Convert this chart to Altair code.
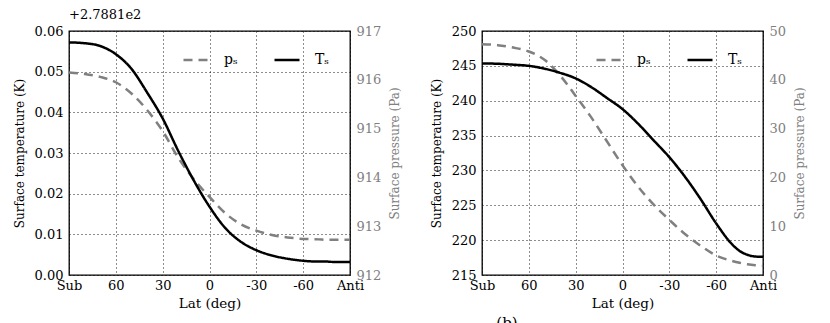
import altair as alt
import pandas as pd

# ---------------- data ----------------
LAT = [90, 80, 70, 60, 50, 40, 30, 20, 10, 0, -10, -20, -30, -40, -50, -60, -70, -75, -80, -85, -90]
X_TICKS = [90, 60, 30, 0, -30, -60, -90]
SERIES = ["pₛ", "Tₛ"]

# panel (a): temperature offset above 278.81 K, surface pressure in Pa
A_OFFSET_LABEL = "+2.7881e2"
A_T = [0.0572, 0.0570, 0.0563, 0.0543, 0.0507, 0.0449, 0.0385, 0.0305, 0.0232, 0.0168,
       0.0116, 0.0082, 0.0061, 0.0048, 0.0040, 0.0035, 0.0033, 0.0033, 0.0032, 0.0032, 0.0032]
A_P = [916.15, 916.12, 916.06, 915.95, 915.72, 915.38, 914.95, 914.40, 913.96, 913.60,
       913.27, 913.04, 912.91, 912.82, 912.77, 912.74, 912.73, 912.72, 912.72, 912.72, 912.72]
A_T_TICKS = [0.0, 0.01, 0.02, 0.03, 0.04, 0.05, 0.06]
A_P_TICKS = [912, 913, 914, 915, 916, 917]

# panel (b)
B_T = [245.35, 245.30, 245.17, 245.00, 244.60, 244.00, 243.20, 241.95, 240.40, 238.80,
       236.70, 234.30, 231.90, 229.10, 225.90, 222.40, 219.45, 218.45, 217.90, 217.65, 217.60]
B_P = [47.3, 47.1, 46.6, 45.8, 44.1, 40.9, 36.7, 32.3, 27.4, 22.5,
       18.1, 14.4, 11.3, 8.4, 6.0, 4.0, 2.9, 2.5, 2.2, 2.0, 1.9]
B_T_TICKS = [215, 220, 225, 230, 235, 240, 245, 250]
B_P_TICKS = [0, 10, 20, 30, 40, 50]

GREY = "#808080"
FONT = "DejaVu Serif, Liberation Serif, serif"
W, H = 281, 244


def legend():
    return alt.Legend(
        orient="none", legendX=113, legendY=15, direction="horizontal", title=None,
        symbolType="stroke", symbolSize=625, symbolStrokeWidth=2.5,
        labelFontSize=14, labelFont=FONT, labelOffset=14, columnPadding=31,
        padding=0, symbolStrokeColor="black",
    )


def panel(T, P, t_ticks, t_fmt, p_ticks, title=None, caption=None):
    dT = pd.DataFrame({"lat": LAT, "value": T, "series": SERIES[1]})
    dP = pd.DataFrame({"lat": LAT, "value": P, "series": SERIES[0]})
    x = alt.X(
        "lat:Q",
        scale=alt.Scale(domain=[90, -90], nice=False, zero=False),
        axis=alt.Axis(
            values=X_TICKS, title="Lat (deg)", grid=True, titleFontSize=13.5,
            labelExpr="datum.value == 90 ? 'Sub' : datum.value == -90 ? 'Anti' : '' + datum.value",
            labelPadding=4, titlePadding=4,
        ),
    )
    color = alt.Color("series:N", scale=alt.Scale(domain=SERIES, range=[GREY, "black"]), legend=legend())
    dash = alt.StrokeDash("series:N", scale=alt.Scale(domain=SERIES, range=[[9, 6], [1, 0]]), legend=legend())

    p_layer = alt.Chart(dP).mark_line(strokeWidth=2.5, interpolate="monotone").encode(
        x=x,
        y=alt.Y(
            "value:Q",
            scale=alt.Scale(domain=[p_ticks[0], p_ticks[-1]], nice=False, zero=False),
            axis=alt.Axis(
                orient="right", values=p_ticks, format="d", title="Surface pressure (Pa)",
                grid=False, labelColor=GREY, titleColor=GREY, labelPadding=6, titlePadding=21,
                titleAngle=270,
            ),
        ),
        color=color, strokeDash=dash,
    )
    t_layer = alt.Chart(dT).mark_line(strokeWidth=2.5, interpolate="monotone").encode(
        x=x,
        y=alt.Y(
            "value:Q",
            scale=alt.Scale(domain=[t_ticks[0], t_ticks[-1]], nice=False, zero=False),
            axis=alt.Axis(
                orient="left", values=t_ticks, format=t_fmt, title="Surface temperature (K)",
                grid=True, labelPadding=6, titlePadding=8,
            ),
        ),
        color=color, strokeDash=dash,
    )
    layers = [p_layer, t_layer]
    if caption:
        cap = alt.Chart(pd.DataFrame({"t": [caption]})).mark_text(
            font=FONT, fontSize=15, baseline="top", align="center", color="black"
        ).encode(text="t:N", x=alt.value(25), y=alt.value(H + 41))
        layers.append(cap)
    ch = alt.layer(*layers).resolve_scale(y="independent")
    props = dict(width=W, height=H)
    if title is not None:
        props["title"] = alt.TitleParams(
            text=title, anchor="start", frame="group", font=FONT, fontSize=13,
            fontWeight="normal", offset=3, color="black",
        )
    return ch.properties(**props)


left = panel(A_T, A_P, A_T_TICKS, ".2f", A_P_TICKS, title=A_OFFSET_LABEL)
right = panel(B_T, B_P, B_T_TICKS, "d", B_P_TICKS, title=" ", caption="(b)")

chart = (
    alt.hconcat(left, right, spacing=132, bounds="flush")
    .resolve_scale(color="independent", strokeDash="independent")
    .resolve_legend(color="independent", strokeDash="independent")
    .properties(padding={"left": 4, "top": 0, "right": 5, "bottom": 5})
    .configure(font=FONT)
    .configure_axis(
        labelFont=FONT, titleFont=FONT, labelFontSize=13, titleFontSize=12,
        titleFontWeight="normal", ticks=False, domain=False,
        labelColor="black", titleColor="black", labelFlush=False, labelOverlap=False,
        gridColor="black", gridDash=[1, 3], gridWidth=0.9, gridOpacity=1,
    )
    .configure_view(stroke="black", strokeWidth=1.3)
    .configure_concat(spacing=132)
)

chart.save("out.html", embed_options={"renderer": "svg", "actions": False})
